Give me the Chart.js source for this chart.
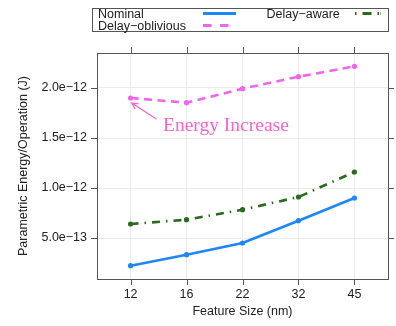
<!DOCTYPE html>
<html><head><meta charset="utf-8">
<script src="https://cdn.jsdelivr.net/npm/chart.js@4/dist/chart.umd.min.js"></script>
<style>html,body{margin:0;padding:0;background:#fff}canvas{display:block}</style>
</head><body>
<canvas id="c" width="396" height="326"></canvas>
<script>
// Feature sizes (nm) on the x axis
const featureSizes = ['12', '16', '22', '32', '45'];
// Parametric energy per operation (J)
const nominal        = [0.223e-12, 0.333e-12, 0.450e-12, 0.673e-12, 0.900e-12];
const delayAware     = [0.640e-12, 0.683e-12, 0.783e-12, 0.910e-12, 1.160e-12];
const delayOblivious = [1.900e-12, 1.853e-12, 1.993e-12, 2.113e-12, 2.217e-12];
// y axis ticks
const yTickValues = [5e-13, 1e-12, 1.5e-12, 2e-12];
const yTickLabels = ['5.0e\u221213', '1.0e\u221212', '1.5e\u221212', '2.0e\u221212'];

// Callout placement, in data units (category index, J)
const callout = {
  text: 'Energy Increase',
  textAt: [0.58, 1.573e-12],
  arrowFrom: [0.46, 1.69e-12],
  arrowTo: [0.02, 1.85e-12]
};

const BLUE = '#1f87f5', GREEN = '#2b6a1d', PINK = '#f064ef', CALLOUT = '#f266cc';
const FRAME = '#555555', GRID = '#ebebeb';
const SANS = '"Liberation Sans", Arial, sans-serif';

const toPoints = arr => arr.map((v, i) => ({ x: i, y: v }));

const series = [
  { label: 'Nominal', data: nominal, color: BLUE, dash: [] },
  { label: 'Delay\u2212aware', data: delayAware, color: GREEN, dash: [8, 6, 1.5, 6] },
  { label: 'Delay\u2212oblivious', data: delayOblivious, color: PINK, dash: [8, 5.5] }
];

const framePlugin = {
  id: 'frame',
  afterDraw(chart) {
    const { ctx, chartArea: a, scales } = chart;
    ctx.save();
    ctx.strokeStyle = FRAME;
    ctx.lineWidth = 1;
    ctx.strokeRect(Math.round(a.left) + 0.5, Math.round(a.top) + 0.5,
                   Math.round(a.right - a.left), Math.round(a.bottom - a.top));
    ctx.beginPath();
    scales.x.ticks.forEach(t => {
      const px = Math.round(scales.x.getPixelForValue(t.value)) + 0.5;
      ctx.moveTo(px, a.top - 6); ctx.lineTo(px, a.top);
      ctx.moveTo(px, a.bottom); ctx.lineTo(px, a.bottom + 6);
    });
    scales.y.ticks.forEach(t => {
      const py = Math.round(scales.y.getPixelForValue(t.value)) + 0.5;
      ctx.moveTo(a.left - 6, py); ctx.lineTo(a.left, py);
      ctx.moveTo(a.right, py); ctx.lineTo(a.right + 6, py);
    });
    ctx.stroke();
    ctx.restore();
  }
};

const calloutPlugin = {
  id: 'callout',
  afterDatasetsDraw(chart) {
    const { ctx, scales: { x, y } } = chart;
    const px = p => [x.getPixelForValue(p[0]), y.getPixelForValue(p[1])];
    const [fx, fy] = px(callout.arrowFrom);
    const [tx, ty] = px(callout.arrowTo);
    const [lx, ly] = px(callout.textAt);
    ctx.save();
    ctx.strokeStyle = CALLOUT;
    ctx.lineWidth = 1.3;
    ctx.beginPath();
    ctx.moveTo(fx, fy); ctx.lineTo(tx, ty);
    const ang = Math.atan2(ty - fy, tx - fx);
    const head = 7, spread = 0.45;
    ctx.moveTo(tx - head * Math.cos(ang - spread), ty - head * Math.sin(ang - spread));
    ctx.lineTo(tx, ty);
    ctx.lineTo(tx - head * Math.cos(ang + spread), ty - head * Math.sin(ang + spread));
    ctx.stroke();
    ctx.fillStyle = CALLOUT;
    ctx.font = '19.5px "Liberation Serif", "Times New Roman", serif';
    ctx.textBaseline = 'alphabetic';
    ctx.textAlign = 'left';
    ctx.fillText(callout.text, lx, ly);
    ctx.restore();
  }
};

const legendPlugin = {
  id: 'boxLegend',
  afterDraw(chart) {
    const { ctx } = chart;
    ctx.save();
    ctx.strokeStyle = FRAME;
    ctx.lineWidth = 1;
    ctx.strokeRect(92.5, 8.5, 296, 23);
    ctx.font = '12.5px ' + SANS;
    ctx.fillStyle = '#222';
    ctx.textBaseline = 'alphabetic';
    ctx.textAlign = 'left';
    const items = [
      { s: series[0], tx: 98, ty: 18, x0: 203, x1: 236, ly: 13.5, dash: [] },
      { s: series[1], tx: 266.5, ty: 18, x0: 355, x1: 381, ly: 13.5, dash: [1.5, 6, 9, 6, 1.5] },
      { s: series[2], tx: 98, ty: 29.5, x0: 203, x1: 229, ly: 25.5, dash: [8.5, 8.5] }
    ];
    items.forEach(it => {
      ctx.fillText(it.s.label, it.tx, it.ty);
      ctx.beginPath();
      ctx.strokeStyle = it.s.color;
      ctx.lineWidth = 3;
      ctx.setLineDash(it.dash);
      ctx.moveTo(it.x0, it.ly); ctx.lineTo(it.x1, it.ly);
      ctx.stroke();
      ctx.setLineDash([]);
    });
    ctx.restore();
  }
};

new Chart(document.getElementById('c'), {
  type: 'line',
  data: {
    datasets: series.map(s => ({
      label: s.label,
      data: toPoints(s.data),
      borderColor: s.color,
      backgroundColor: s.color,
      borderWidth: 2.6,
      borderDash: s.dash,
      pointRadius: 2.6,
      pointBorderWidth: 0,
      pointBackgroundColor: s.color,
      tension: 0
    }))
  },
  options: {
    responsive: false,
    animation: false,
    events: [],
    layout: { padding: { left: 0, right: 8, top: 53, bottom: 0 } },
    plugins: { legend: { display: false }, tooltip: { enabled: false } },
    scales: {
      x: {
        type: 'linear',
        min: -0.6, max: 4.6,
        afterBuildTicks: s => { s.ticks = featureSizes.map((_, i) => ({ value: i })); },
        afterFit: s => { s.height = 47; },
        grid: { color: GRID, drawTicks: false },
        border: { display: false },
        ticks: {
          padding: 8,
          color: '#222',
          font: { family: SANS, size: 12.5 },
          maxRotation: 0,
          callback: (v) => featureSizes[v]
        },
        title: {
          display: true, text: 'Feature Size (nm)', color: '#222',
          font: { family: SANS, size: 12.5 },
          padding: { top: 0, bottom: 7 }
        }
      },
      y: {
        min: 0.09e-12, max: 2.35e-12,
        afterBuildTicks: s => { s.ticks = yTickValues.map(v => ({ value: v })); },
        afterFit: s => { s.width = 97; },
        grid: { color: GRID, drawTicks: false },
        border: { display: false },
        ticks: {
          padding: 10,
          color: '#222',
          font: { family: SANS, size: 12.5 },
          callback: (v, i) => yTickLabels[i]
        },
        title: {
          display: true, text: 'Parametric Energy/Operation (J)', color: '#222',
          font: { family: SANS, size: 12.5 },
          padding: { top: 16, bottom: 0 }
        }
      }
    }
  },
  plugins: [framePlugin, calloutPlugin, legendPlugin]
});
</script>
</body></html>
